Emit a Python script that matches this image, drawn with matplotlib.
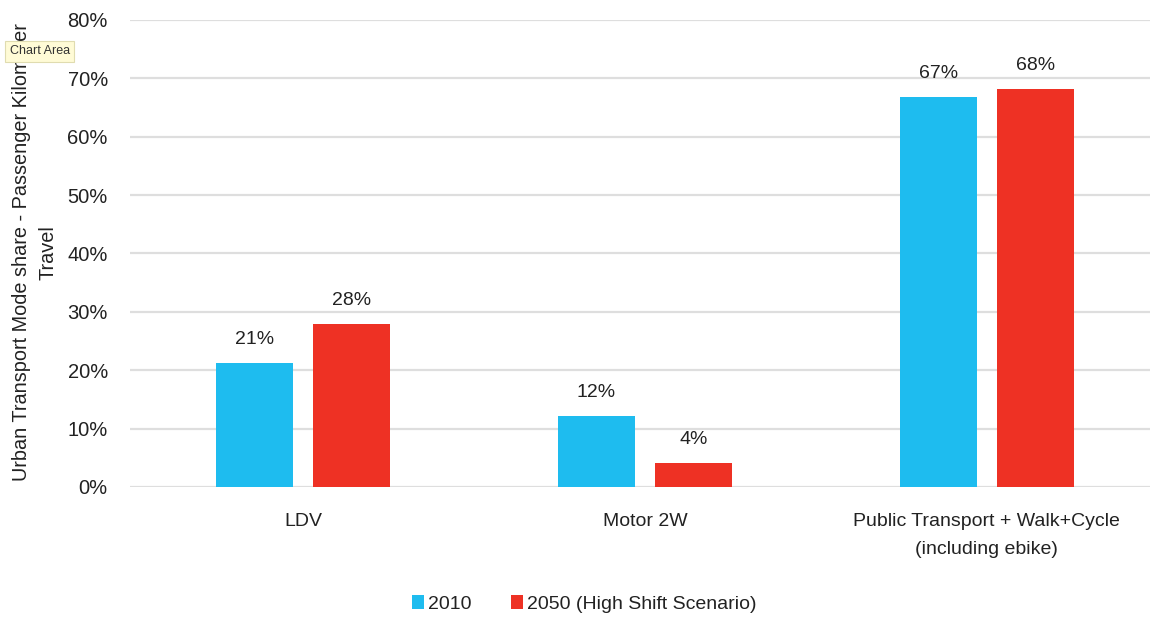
import matplotlib
matplotlib.use("Agg")
import matplotlib.pyplot as plt
import numpy as np

categories = ["LDV", "Motor 2W", "Public Transport + Walk+Cycle\n(including ebike)"]
series_names = ["2010", "2050 (High Shift Scenario)"]
values_2010 = [21.2, 12.2, 66.8]
values_2050 = [27.9, 4.1, 68.2]
labels_2010 = ["21%", "12%", "67%"]
labels_2050 = ["28%", "4%", "68%"]
yticks = [0, 10, 20, 30, 40, 50, 60, 70, 80]
ytick_labels = ["0%", "10%", "20%", "30%", "40%", "50%", "60%", "70%", "80%"]
ylabel = "Urban Transport Mode share - Passenger Kilometer\nTravel"

plt.rcParams["font.family"] = ["Liberation Sans", "DejaVu Sans"]
blue = "#1EBCEF"
red = "#EE3124"
txt = "#222222"

fig = plt.figure(figsize=(11.55, 6.17), dpi=100)
ax = fig.add_axes([0.1126, 0.2107, 0.8831, 0.7569])

x = np.arange(len(categories))
w = 0.225
off = 0.1425
b1 = ax.bar(x - off, values_2010, w, color=blue, label=series_names[0], zorder=3)
b2 = ax.bar(x + off, values_2050, w, color=red, label=series_names[1], zorder=3)

for bars, labs in ((b1, labels_2010), (b2, labels_2050)):
    for r, lab in zip(bars, labs):
        ax.annotate(lab, (r.get_x() + r.get_width() / 2, r.get_height()),
                    xytext=(0, 11), textcoords="offset points",
                    ha="center", va="bottom", fontsize=14, color=txt)

ax.set_xlim(-0.506, 2.477)
ax.set_ylim(0, 80)
ax.set_yticks(yticks)
ax.set_yticklabels(ytick_labels, fontsize=14.5, color=txt)
ax.set_xticks(x)
ax.set_xticklabels(categories, fontsize=14, color=txt, linespacing=1.8)
ax.tick_params(axis="y", length=0, pad=16)
ax.tick_params(axis="x", length=0, pad=19)
ax.grid(axis="y", color="#dedede", linewidth=1.6, zorder=0)
for s in ax.spines.values():
    s.set_visible(False)

ax.set_ylabel(ylabel, fontsize=14.3, color=txt, linespacing=1.5)
ax.yaxis.set_label_coords(-0.0716, 0.503)

leg = fig.legend(handles=[b1, b2], labels=series_names, loc="center",
                 bbox_to_anchor=(0.506, 0.021), ncol=2, frameon=False,
                 fontsize=14, handlelength=0.6, handleheight=0.7,
                 handletextpad=0.25, columnspacing=2.0)
for t in leg.get_texts():
    t.set_color(txt)

fig.text(0.0085, 0.917, "Chart Area", fontsize=9, color="#333333",
         va="center", ha="left", zorder=10,
         bbox=dict(boxstyle="square,pad=0.35", fc="#FFFBD6", ec="#E0DCB0", lw=0.8))

fig.savefig("out.png", dpi=100)
